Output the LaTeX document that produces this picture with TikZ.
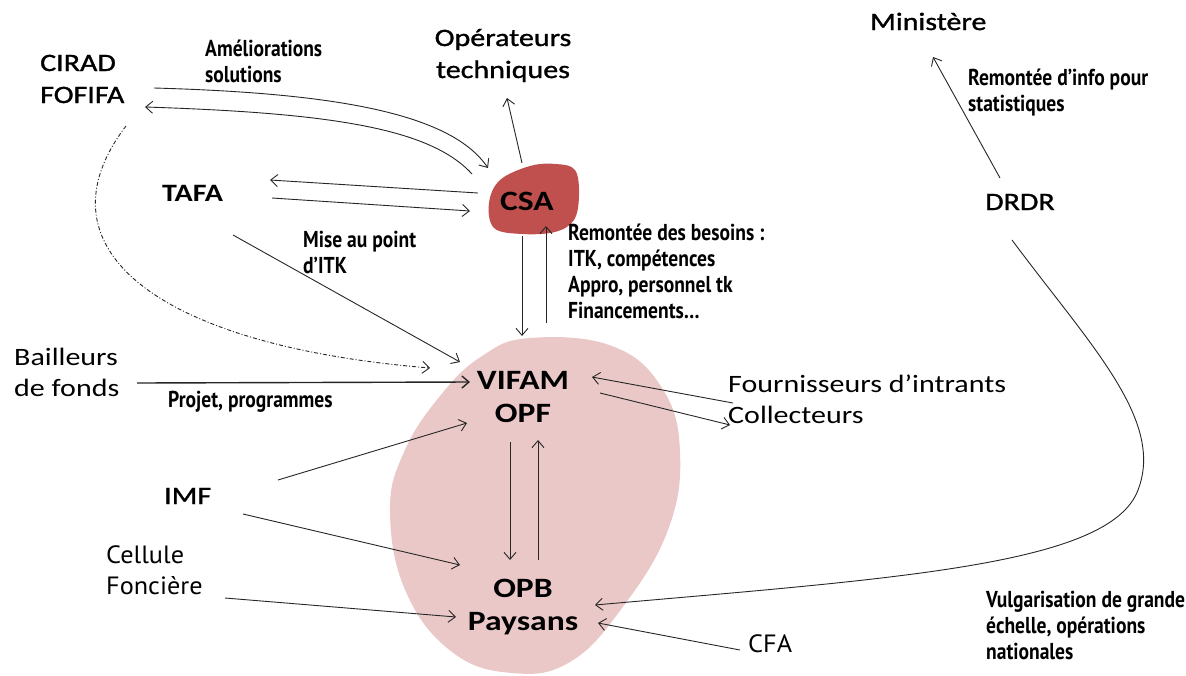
\documentclass[tikz,border=0pt]{standalone}
\usepackage{fontspec}
\setmainfont{Carlito}[FakeStretch=1.2]
\newfontfamily\semi{Carlito}[FakeStretch=1.2,FakeBold=1.2]
\newfontfamily\lbl{PT Sans}[FakeStretch=0.85]
\newfontfamily\lblr{PT Sans}[FakeStretch=1.05]
\usetikzlibrary{arrows.meta,calc}
\definecolor{csared}{HTML}{C0504D}
\definecolor{blobpink}{HTML}{EBC8C8}
\begin{document}
\begin{tikzpicture}[x=1pt,y=-1pt,
  ent/.style={font=\fontsize{25}{31}\selectfont, align=left, inner sep=0pt, anchor=base west},
  ents/.style={ent, font=\fontsize{25}{32}\selectfont\semi},
  entb/.style={font=\fontsize{28}{33}\selectfont\bfseries, align=center, inner sep=0pt, anchor=base},
  lab/.style={font=\fontsize{23}{26}\selectfont\lbl\bfseries, align=left, inner sep=0pt, anchor=base west},
  labr/.style={font=\fontsize{25}{31}\selectfont\lblr, align=left, inner sep=0pt, anchor=base west},
  conn/.style={draw=black!85, line width=0.9pt, -{Straight Barb[length=7pt,width=12pt]}},
]
\useasboundingbox (0,0) rectangle (1186,675);

% blobs
\fill[blobpink] plot[smooth cycle, tension=0.7] coordinates {(530,338) (612,346) (662,388) (680,452) (668,530) (622,608) (570,662) (512,673) (452,652) (406,592) (390,512) (404,452) (440,396) (482,356)};
\fill[csared] plot[smooth cycle, tension=0.6] coordinates {(530,166) (556,164) (575,170) (579,195) (574,220) (555,232) (522,234) (494,228) (489,203) (500,180)};

% entity nodes (y = baseline of last line)
\node[ents] (cirad) at (40,103) {CIRAD\\FOFIFA};
\node[ents, align=center, anchor=base] (oper) at (503,78) {Opérateurs\\techniques};
\node[ents] (mini) at (870,30) {Ministère};
\node[ents] (drdr) at (985,210) {DRDR};
\node[ent, font=\fontsize{25}{31}\selectfont\bfseries] (tafa) at (162,201) {TAFA};
\node[entb] (csa) at (527,210) {CSA};
\node[ent] (bail) at (14,396) {Bailleurs\\de fonds};
\node[entb] (vifam) at (523,422) {VIFAM\\OPF};
\node[ent] (fourn) at (728,423) {Fournisseurs d’intrants\\Collecteurs};
\node[ents] (imf) at (164,504) {IMF};
\node[labr] (cell) at (106,594) {Cellule\\Foncière};
\node[entb] (opb) at (523,630) {OPB\\Paysans};
\node[labr] (cfa) at (748,652) {CFA};

% labels
\node[lab] (lamel) at (205,82) {Améliorations\\solutions};
\node[lab] (linfo) at (968,111) {Remontée d’info pour\\statistiques};
\node[lab] (lmise) at (303,273) {Mise au point\\d’ITK};
\node[lab] (lbes) at (568,318) {Remontée des besoins :\\ITK, compétences\\Appro, personnel tk\\Financements…};
\node[lab] (lproj) at (168,407) {Projet, programmes};
\node[lab] (lvulg) at (986,659) {Vulgarisation de grande\\échelle, opérations\\nationales};

% connector end points
\coordinate (ciradA) at (154,88);
\coordinate (csaA) at (488,168);
\coordinate (csaB) at (472,174);
\coordinate (ciradB) at (145,107);
\coordinate (ciradC) at (126,126);
\coordinate (vifamC) at (430,368);
\coordinate (csaTop) at (522,163);
\coordinate (operB) at (507,98);
\coordinate (csaL1) at (478,193);
\coordinate (tafaR1) at (270,180);
\coordinate (tafaR2) at (272,198);
\coordinate (csaL2) at (470,211);
\coordinate (tafaD) at (233,235);
\coordinate (vifamT) at (460,362);
\coordinate (csaD) at (522,236);
\coordinate (vifamU) at (522,336);
\coordinate (vifamU2) at (546,323);
\coordinate (csaD2) at (546,226);
\coordinate (bailR) at (137,383);
\coordinate (vifamL) at (470,382);
\coordinate (imfA) at (278,480);
\coordinate (vifamL2) at (467,423);
\coordinate (imfB) at (243,514);
\coordinate (opbL) at (460,565);
\coordinate (vifamD) at (510,442);
\coordinate (opbU) at (510,560);
\coordinate (opbU2) at (538,560);
\coordinate (vifamD2) at (538,440);
\coordinate (cellR) at (225,598);
\coordinate (opbL2) at (456,617);
\coordinate (fournL) at (733,403);
\coordinate (vifamR) at (592,377);
\coordinate (vifamR2) at (600,393);
\coordinate (collL) at (730,425);
\coordinate (drdrB) at (1012,240);
\coordinate (opbR) at (595,605);
\coordinate (cfaL) at (740,650);
\coordinate (opbR2) at (598,623);
\coordinate (drdrT) at (1000,178);
\coordinate (miniB) at (933,57);

% connectors
\draw[conn] (ciradA) .. controls (330,93) and (450,112) .. (csaA);
\draw[conn] (csaB) .. controls (430,128) and (330,113) .. (ciradB);
\draw[conn, dash pattern=on 4pt off 2pt on 1pt off 2pt] (ciradC) .. controls (35,245) and (150,345) .. (vifamC);
\draw[conn] (csaTop) -- (operB);
\draw[conn] (csaL1) -- (tafaR1);
\draw[conn] (tafaR2) -- (csaL2);
\draw[conn] (tafaD) -- (vifamT);
\draw[conn] (csaD) -- (vifamU);
\draw[conn] (vifamU2) -- (csaD2);
\draw[conn, line width=1.4pt] (bailR) -- (vifamL);
\draw[conn] (imfA) -- (vifamL2);
\draw[conn] (imfB) -- (opbL);
\draw[conn] (vifamD) -- (opbU);
\draw[conn] (opbU2) -- (vifamD2);
\draw[conn] (cellR) -- (opbL2);
\draw[conn] (fournL) -- (vifamR);
\draw[conn] (vifamR2) -- (collL);
\draw[conn] (drdrB) .. controls (1090,345) and (1165,420) .. (1138,490) .. controls (1110,565) and (900,578) .. (opbR);
\draw[conn] (cfaL) -- (opbR2);
\draw[conn] (drdrT) -- (miniB);
\end{tikzpicture}
\end{document}
